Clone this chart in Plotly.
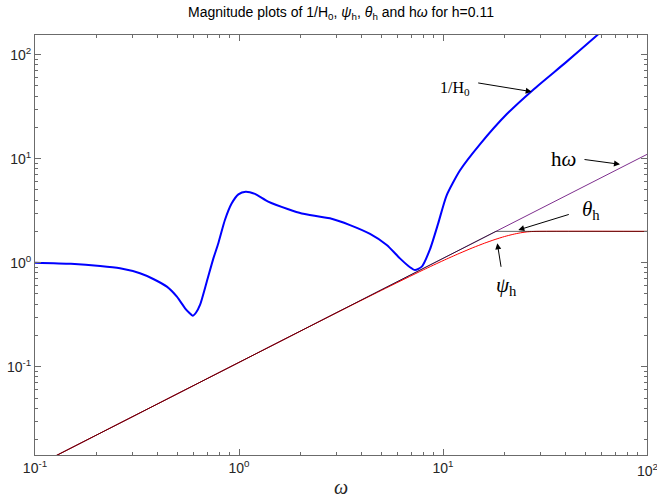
import plotly.graph_objects as go

# ---- data ----
w_inv_h0 = [0.1, 0.15, 0.2085, 0.261, 0.327, 0.380, 0.443, 0.496, 0.544, 0.57, 0.593, 0.615,
            0.644, 0.695, 0.749, 0.792, 0.853, 0.920, 0.993, 1.079, 1.197, 1.39, 1.745, 2.03,
            2.79, 3.50, 4.39, 5.30, 6.15, 6.89, 7.29, 7.87, 8.64, 9.48, 10.4, 12.1, 15.2,
            20.5, 27.7, 40.4, 54.6, 60.0]
mag_inv_h0 = [1.0, 0.975, 0.93, 0.883, 0.791, 0.697, 0.588, 0.471, 0.364, 0.33, 0.309, 0.33,
              0.392, 0.656, 1.10, 1.54, 2.57, 3.7, 4.54, 4.82, 4.58, 3.86, 3.26, 2.97,
              2.67, 2.30, 1.89, 1.48, 1.10, 0.903, 0.85, 0.916, 1.35, 2.4, 4.4, 7.69, 13.8,
              26.7, 46.1, 85.7, 143.0, 168.0]

w_hw = [0.1, 100.0]
mag_hw = [0.011, 11.0]

w_theta = [0.1, 18.18, 100.0]
mag_theta = [0.011, 2.0, 2.0]

w_psi = [0.1, 1.0, 3.0, 5.0, 8.0, 10.0, 12.0, 14.0, 16.0, 18.0, 20.0, 22.0, 24.0, 26.0, 28.6, 100.0]
mag_psi = [0.011, 0.11, 0.329, 0.5431, 0.8519, 1.0454, 1.2262, 1.3923, 1.5415, 1.6721,
           1.7824, 1.8712, 1.9374, 1.9802, 2.0, 2.0]

x_major = [0.1, 1, 10, 100]
x_major_text = ["10<sup>-1</sup>", "10<sup>0</sup>", "10<sup>1</sup>", "10<sup>2</sup>"]
y_major = [0.1, 1, 10, 100]
y_major_text = ["10<sup>-1</sup>", "10<sup>0</sup>", "10<sup>1</sup>", "10<sup>2</sup>"]

x_minor = [m * 10 ** e for e in (-1, 0, 1) for m in range(2, 10)]
y_minor = [m * 10 ** e for e in (-2, -1, 0, 1, 2) for m in range(1, 10)]

fig = go.Figure()
fig.add_trace(go.Scatter(x=w_hw, y=mag_hw, mode="lines",
                         line=dict(color="#7E2F8E", width=1), showlegend=False))
fig.add_trace(go.Scatter(x=w_psi, y=mag_psi, mode="lines",
                         line=dict(color="#FF0000", width=1, shape="spline", smoothing=0.6),
                         showlegend=False))
fig.add_trace(go.Scatter(x=w_theta, y=mag_theta, mode="lines", opacity=0.6,
                         line=dict(color="#000000", width=1), showlegend=False))
fig.add_trace(go.Scatter(x=w_inv_h0, y=mag_inv_h0, mode="lines",
                         line=dict(color="#0000FF", width=2, shape="spline", smoothing=0.6),
                         showlegend=False))

tick_font = dict(family="Liberation Sans, Arial", size=14, color="#262626")
axis_common = dict(
    type="log", showgrid=False, zeroline=False, showline=True, linecolor="#6b6b6b",
    linewidth=1, mirror="allticks", ticks="inside", ticklen=6, tickcolor="#6b6b6b",
    tickmode="array", automargin=False, tickfont=tick_font,
)
fig.update_xaxes(range=[-1, 2], tickvals=x_major, ticktext=x_major_text,
                 minor=dict(tickmode="array", tickvals=x_minor, ticks="inside", ticklen=3,
                            tickcolor="#6b6b6b"),
                 **axis_common)
fig.update_yaxes(range=[-1.849, 2.189], tickvals=y_major, ticktext=y_major_text,
                 minor=dict(tickmode="array", tickvals=y_minor, ticks="inside", ticklen=3,
                            tickcolor="#6b6b6b"),
                 **axis_common)

serif = "Liberation Serif, Times New Roman, serif"
L, R, T, B = 35, 647, 35, 455


def px_to_x(px):
    return (px - L) / (R - L) * 3 - 1


def py_to_y(py):
    return 2.189 - (py - T) / (B - T) * (2.189 + 1.849)


arrows = [
    (531.7, 91.7, -55, -9),
    (620.0, 164.3, -37, -5),
    (518.3, 230.0, 52, -16),
    (497.3, 243.3, 4, 25),
]
annotations = []
for hx, hy, dx, dy in arrows:
    annotations.append(dict(x=px_to_x(hx), y=py_to_y(hy), xref="x", yref="y", text="",
                            showarrow=True, arrowhead=2, arrowsize=1.2, arrowwidth=1,
                            arrowcolor="black", ax=dx, ay=dy))

labels = [
    ("1/H<sub>0</sub>", 455, 88, 16),
    ("h<i>ω</i>", 563, 159, 21),
    ("<i>θ</i><sub>h</sub>", 591, 210, 21),
    ("<i>ψ</i><sub>h</sub>", 506, 286, 21),
]
for txt, cx, cy, sz in labels:
    annotations.append(dict(x=px_to_x(cx), y=py_to_y(cy), xref="x", yref="y", text=txt,
                            showarrow=False, xanchor="center", yanchor="middle",
                            font=dict(family=serif, size=sz, color="black")))

# last x tick label sits on the right edge (partly clipped in the reference)
annotations.append(dict(x=1.0, y=-(470 - B) / (B - T), xref="paper", yref="paper",
                        text=x_major_text[-1], showarrow=False, xanchor="center",
                        yanchor="middle", font=tick_font))

annotations.append(dict(x=0.5, y=-(487 - B) / (B - T), xref="paper", yref="paper",
                        text="<i>ω</i>", showarrow=False, xanchor="center", yanchor="middle",
                        font=dict(family=serif, size=20, color="#262626")))

fig.update_layout(
    width=657, height=498,
    margin=dict(l=L, r=657 - R, t=T, b=498 - B, autoexpand=False),
    paper_bgcolor="white", plot_bgcolor="white",
    title=dict(text="Magnitude plots of 1/H<sub>0</sub>, <i>ψ</i><sub>h</sub>, "
                    "<i>θ</i><sub>h</sub> and h<i>ω</i> for h=0.11",
               x=(L + R) / 2 / 657, xanchor="center", y=1 - 12 / 498, yanchor="middle",
               yref="container", font=dict(family="Liberation Sans, Arial", size=14,
                                           color="black")),
    annotations=annotations,
)

fig.write_html("out.html", config={"displayModeBar": False},
               post_script="document.body.style.margin='0';")
